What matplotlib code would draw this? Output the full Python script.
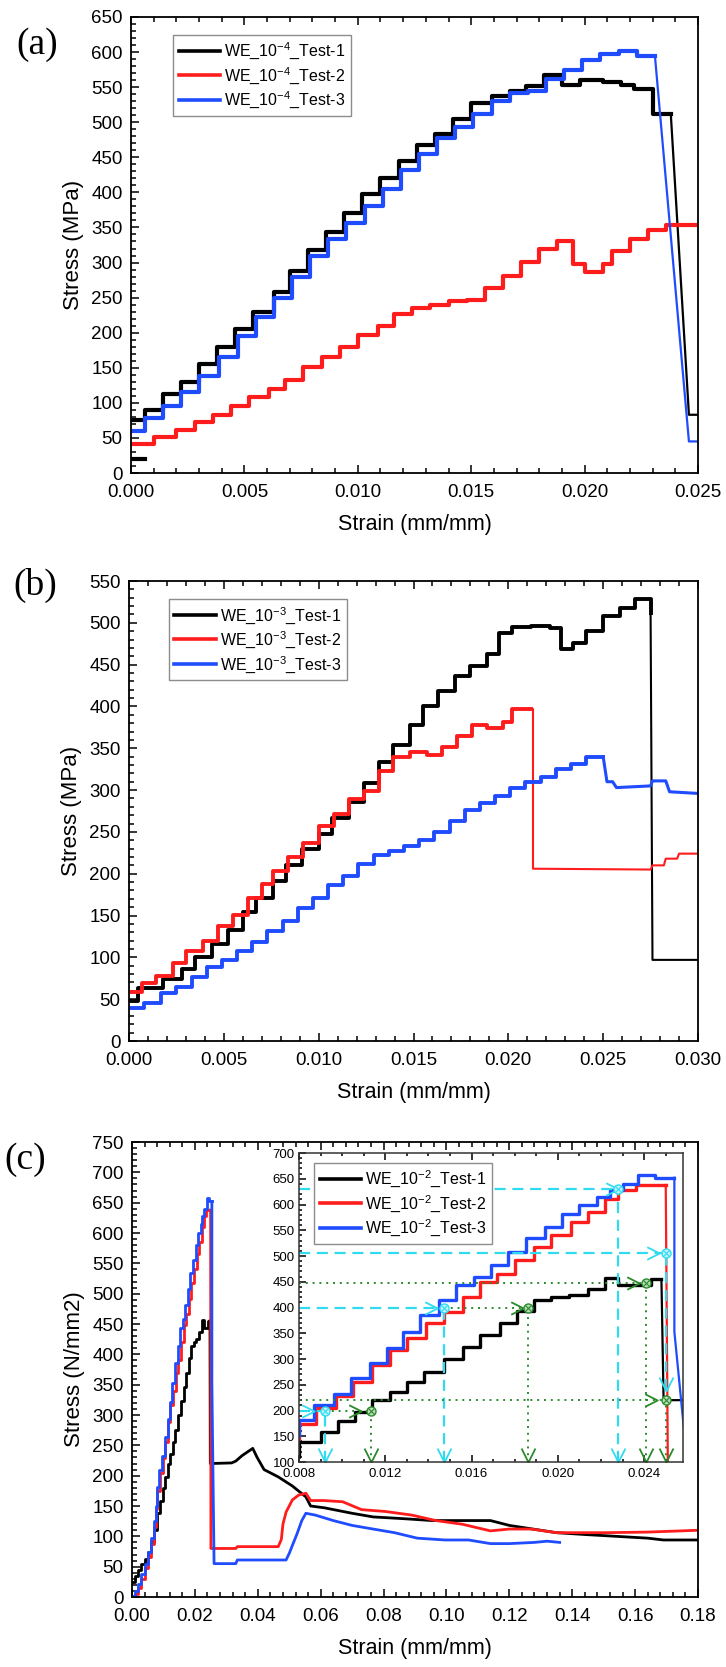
import matplotlib.pyplot as plt
from matplotlib.path import Path
from matplotlib.ticker import MultipleLocator, FormatStrFormatter

plt.rcParams['font.family'] = ['Liberation Sans', 'DejaVu Sans']
plt.rcParams['mathtext.fontset'] = 'custom'
plt.rcParams['mathtext.rm'] = 'Liberation Sans'
plt.rcParams['mathtext.it'] = 'Liberation Sans:italic'
plt.rcParams['mathtext.bf'] = 'Liberation Sans:bold'

# ---------------- (a) strain rate 10^-4 ----------------
a_labels = ['WE_10$^{-4}$_Test-1', 'WE_10$^{-4}$_Test-2', 'WE_10$^{-4}$_Test-3']
a1_x = [0, 0.0006, 0.0014, 0.0022, 0.0030, 0.0038, 0.0046, 0.0054, 0.0063, 0.0070, 0.0078,
        0.0086, 0.0094, 0.0102, 0.0110, 0.0118, 0.0126, 0.0134, 0.0142, 0.0150, 0.0159,
        0.0167, 0.0174, 0.0182, 0.0190, 0.0198, 0.0208, 0.0216, 0.0222, 0.0230, 0.0238]
a1_y = [75, 90, 112, 130, 155, 180, 205, 230, 258, 288, 318, 343, 370, 398, 420, 445, 468,
        483, 505, 527, 537, 545, 552, 567, 553, 560, 558, 553, 548, 512, 512]
a1_tx = [0.0238, 0.0246, 0.0250]
a1_ty = [512, 83, 83]
a1_sx = [0, 0.0006]   # short low segment at the start
a1_sy = [20, 20]

a2_x = [0, 0.0010, 0.0020, 0.0028, 0.0036, 0.0044, 0.0052, 0.0061, 0.0068, 0.0076, 0.0084,
        0.0092, 0.0100, 0.0109, 0.0116, 0.0124, 0.0132, 0.0140, 0.0148, 0.0156, 0.0164,
        0.0172, 0.0180, 0.0188, 0.0195, 0.0200, 0.0208, 0.0212, 0.0220, 0.0228, 0.0236, 0.0250]
a2_y = [42, 52, 62, 72, 83, 95, 108, 120, 133, 151, 165, 179, 197, 210, 227, 235, 240, 245,
        246, 263, 281, 301, 319, 331, 298, 286, 298, 317, 334, 347, 353, 353]

a3_x = [0, 0.0006, 0.0014, 0.0022, 0.0030, 0.0039, 0.0047, 0.0055, 0.0063, 0.0071, 0.0079,
        0.0087, 0.0095, 0.0103, 0.0111, 0.0119, 0.0127, 0.0135, 0.0143, 0.0151, 0.0159,
        0.0167, 0.0175, 0.0183, 0.0191, 0.0199, 0.0207, 0.0215, 0.0223, 0.0231]
a3_y = [60, 78, 95, 115, 138, 165, 195, 222, 250, 280, 310, 333, 357, 380, 405, 432, 455,
        478, 493, 512, 530, 542, 545, 562, 575, 588, 597, 602, 595, 595]
a3_tx = [0.0231, 0.0246, 0.0250]
a3_ty = [595, 45, 45]

# ---------------- (b) strain rate 10^-3 ----------------
b_labels = ['WE_10$^{-3}$_Test-1', 'WE_10$^{-3}$_Test-2', 'WE_10$^{-3}$_Test-3']
b1_x = [0, 0.0005, 0.0018, 0.0028, 0.0035, 0.0044, 0.0052, 0.0060, 0.0067, 0.0076, 0.0083,
        0.0091, 0.0100, 0.0107, 0.0116, 0.0124, 0.0132, 0.0139, 0.0148, 0.0155, 0.0163,
        0.0172, 0.0180, 0.0189, 0.0195, 0.0202, 0.0212, 0.0222, 0.0228, 0.0234, 0.0241,
        0.0250, 0.0259, 0.0267, 0.0275]
b1_y = [48, 63, 74, 86, 101, 116, 133, 154, 171, 191, 210, 229, 248, 267, 286, 308, 333, 354,
        378, 401, 418, 437, 448, 463, 488, 495, 496, 494, 469, 476, 490, 508, 518, 529, 512]
b1_tx = [0.0275, 0.0276, 0.0300]
b1_ty = [512, 97, 97]

b2_x = [0, 0.0007, 0.0014, 0.0023, 0.0030, 0.0039, 0.0047, 0.0055, 0.0063, 0.0070, 0.0076,
        0.0084, 0.0092, 0.0100, 0.0108, 0.0116, 0.0124, 0.0132, 0.0139, 0.0148, 0.0157,
        0.0165, 0.0173, 0.0181, 0.0189, 0.0197, 0.0202, 0.0212]
b2_y = [59, 69, 78, 93, 108, 120, 137, 151, 171, 188, 203, 220, 237, 257, 271, 289, 299, 323,
        340, 346, 342, 351, 365, 378, 374, 381, 397, 397]
b2_tx = [0.0212, 0.0213, 0.0213, 0.0275, 0.0276, 0.0282, 0.0283, 0.0289, 0.0290, 0.0300]
b2_ty = [397, 397, 206, 205, 210, 210, 218, 218, 224, 224]

b3_x = [0, 0.0008, 0.0017, 0.0025, 0.0033, 0.0041, 0.0049, 0.0057, 0.0065, 0.0073, 0.0081,
        0.0089, 0.0097, 0.0105, 0.0113, 0.0121, 0.0129, 0.0137, 0.0145, 0.0153, 0.0161,
        0.0169, 0.0177, 0.0185, 0.0193, 0.0201, 0.0209, 0.0217, 0.0225, 0.0233, 0.0241, 0.0250]
b3_y = [40, 46, 57, 65, 76, 88, 97, 108, 118, 131, 144, 159, 171, 186, 197, 212, 222, 227,
        233, 240, 250, 263, 276, 284, 293, 303, 310, 316, 325, 331, 340, 340]
b3_tx = [0.0250, 0.0252, 0.0255, 0.0257, 0.0275, 0.0276, 0.0283, 0.0285, 0.0300]
b3_ty = [340, 310, 310, 303, 305, 311, 311, 298, 296]

# ---------------- (c) strain rate 10^-2 ----------------
c_labels = ['WE_10$^{-2}$_Test-1', 'WE_10$^{-2}$_Test-2', 'WE_10$^{-2}$_Test-3']
c1_x = [0, 0.0010, 0.0020, 0.0030, 0.0040, 0.0050, 0.0060, 0.0070, 0.0080, 0.0090, 0.0098,
        0.0106, 0.0114, 0.0122, 0.0130, 0.0138, 0.0147, 0.0156, 0.0164, 0.0173, 0.0181,
        0.0189, 0.0197, 0.0205, 0.0214, 0.0222, 0.0228, 0.0243, 0.0248]
c1_y = [25, 35, 45, 55, 63, 75, 90, 110, 139, 158, 179, 197, 220, 236, 255, 275, 300, 323,
        346, 370, 394, 414, 420, 425, 436, 457, 443, 455, 455]
c1_tx = [0.0248, 0.0249, 0.0317, 0.033, 0.035, 0.0384, 0.0398, 0.042, 0.0465, 0.051, 0.0553,
         0.0568, 0.0612, 0.070, 0.0767, 0.0867, 0.0955, 0.114, 0.120, 0.1275, 0.135, 0.144,
         0.154, 0.164, 0.169, 0.180]
c1_ty = [455, 220, 221, 224, 233, 245, 230, 210, 198, 183, 165, 150, 147, 138, 132, 129, 126,
         126, 118, 112, 106, 103, 100, 97, 94, 94]

c2_x = [0, 0.0010, 0.0020, 0.0030, 0.0040, 0.0050, 0.0060, 0.0070, 0.0076, 0.0080, 0.0088,
        0.0097, 0.0105, 0.0114, 0.0122, 0.0130, 0.0139, 0.0147, 0.0156, 0.0164, 0.0172,
        0.0180, 0.0189, 0.0197, 0.0206, 0.0214, 0.0222, 0.0228, 0.0236, 0.0250]
c2_y = [0, 5, 15, 30, 47, 66, 88, 115, 145, 174, 204, 229, 255, 288, 317, 340, 369, 391, 420,
        449, 466, 492, 517, 540, 566, 585, 610, 628, 638, 638]
c2_tx = [0.0250, 0.0251, 0.033, 0.0335, 0.0465, 0.0475, 0.048, 0.049, 0.050, 0.051, 0.053,
         0.0553, 0.0568, 0.061, 0.067, 0.073, 0.0805, 0.089, 0.0966, 0.105, 0.114, 0.120,
         0.127, 0.135, 0.150, 0.164, 0.180]
c2_ty = [638, 80, 80, 83, 83, 95, 120, 140, 150, 160, 168, 171, 159, 159, 157, 144, 141, 135,
         126, 120, 109, 112, 112, 106, 106, 107, 110]

c3_x = [0, 0.0010, 0.0020, 0.0030, 0.0040, 0.0050, 0.0060, 0.0070, 0.0075, 0.0080, 0.0087,
        0.0096, 0.0104, 0.0113, 0.0121, 0.0128, 0.0136, 0.0145, 0.0153, 0.0161, 0.0169,
        0.0177, 0.0185, 0.0194, 0.0202, 0.0210, 0.0218, 0.0224, 0.0230, 0.0237, 0.0245, 0.0254]
c3_y = [2, 10, 22, 38, 55, 75, 98, 125, 150, 181, 210, 233, 264, 293, 322, 352, 385, 414, 443,
        459, 482, 508, 534, 556, 581, 600, 615, 628, 640, 658, 652, 652]
c3_tx = [0.0254, 0.0254, 0.0261, 0.033, 0.0335, 0.049, 0.0501, 0.051, 0.0524, 0.054, 0.0553,
         0.0583, 0.064, 0.070, 0.0767, 0.0835, 0.0907, 0.0995, 0.107, 0.114, 0.120, 0.128,
         0.132, 0.136]
c3_ty = [652, 353, 55, 55, 61, 61, 73, 85, 103, 126, 138, 135, 126, 118, 112, 106, 97, 94, 94,
         88, 88, 90, 92, 90]

# guide lines in the inset: (level, x start, x end)
cyan_h = [(630, 0.008, 0.0228), (505, 0.008, 0.0250), (400, 0.008, 0.0147), (200, 0.008, 0.0092)]
cyan_v = [(0.0228, 100, 630), (0.0147, 100, 400), (0.0092, 100, 200), (0.0250, 240, 505)]
cyan_pts_x = [0.0228, 0.0250, 0.0147, 0.0092]
cyan_pts_y = [630, 505, 400, 200]
cyan_arr_x = [0.0225, 0.0244, 0.0141, 0.0084]
cyan_down_x = [0.0092, 0.0147, 0.0228, 0.0250]
cyan_down_y = [113, 113, 113, 252]
green_h = [(447, 0.008, 0.0241), (400, 0.0147, 0.0186), (200, 0.0092, 0.01135), (220, 0.008, 0.0250)]
green_v = [(0.01135, 100, 200), (0.0186, 100, 400), (0.0241, 100, 447), (0.0250, 100, 220)]
green_pts_x = [0.0241, 0.0186, 0.01135, 0.0250]
green_pts_y = [447, 400, 200, 220]
green_arr_x = [0.0235, 0.0181, 0.0106, 0.0243]
green_down_x = [0.01135, 0.0186, 0.0241, 0.0250]

colors = ['#000000', '#ff1c1c', '#1f4cff']
CYAN = '#2fdcef'
GREEN = '#2b8a2b'

V_DOWN = Path([(-1, 1), (0, -1), (1, 1)], [Path.MOVETO, Path.LINETO, Path.LINETO])
V_RIGHT = Path([(-1, 1), (1, 0), (-1, -1)], [Path.MOVETO, Path.LINETO, Path.LINETO])

W, H = 726, 1667
fig = plt.figure(figsize=(W / 100, H / 100), dpi=100)


def box(l, t, r, b):
    return [l / W, 1 - b / H, (r - l) / W, (b - t) / H]


def style(ax, xmaj, xmin, ymaj, ymin, fmt, size=13.5, pad=8):
    ax.xaxis.set_major_locator(MultipleLocator(xmaj))
    ax.xaxis.set_minor_locator(MultipleLocator(xmin))
    ax.yaxis.set_major_locator(MultipleLocator(ymaj))
    ax.yaxis.set_minor_locator(MultipleLocator(ymin))
    ax.xaxis.set_major_formatter(FormatStrFormatter(fmt))
    ax.tick_params(which='both', direction='in', top=True, right=False, labelsize=size,
                   width=1.1)
    ax.tick_params(axis='x', which='major', pad=pad)
    ax.tick_params(axis='y', which='major', pad=6)
    ax.tick_params(which='major', length=6)
    ax.tick_params(which='minor', length=3.5)
    for s in ax.spines.values():
        s.set_linewidth(1.3)


def legend(ax, labels, anchor):
    handles = [plt.Line2D([], [], color=c, lw=2.6) for c in colors]
    ax.legend(handles, labels, loc='upper left', bbox_to_anchor=anchor, borderaxespad=0,
              fontsize=11.5, handlelength=2.6, handletextpad=0.25, labelspacing=0.22,
              borderpad=0.35, fancybox=False, framealpha=1, edgecolor='#8c8c8c')


# panel (a)
ax = fig.add_axes(box(131, 17, 698, 473))
ax.plot(a1_sx, a1_sy, color=colors[0], lw=3)
ax.plot(a1_x, a1_y, drawstyle='steps-post', color=colors[0], lw=3)
ax.plot(a1_tx, a1_ty, color=colors[0], lw=1.6)
ax.plot(a2_x, a2_y, drawstyle='steps-post', color=colors[1], lw=3)
ax.plot(a3_x, a3_y, drawstyle='steps-post', color=colors[2], lw=3)
ax.plot(a3_tx, a3_ty, color=colors[2], lw=1.6)
ax.set_xlim(0, 0.025)
ax.set_ylim(0, 650)
style(ax, 0.005, 0.001, 50, 10, '%.3f')
ax.set_xlabel('Strain (mm/mm)', fontsize=15.5, labelpad=9)
ax.set_ylabel('Stress (MPa)', fontsize=16, labelpad=5)
legend(ax, a_labels, (0.074, 0.961))
fig.text(37 / W, 1 - 45 / H, '(a)', family='Liberation Serif', fontsize=27, ha='center', va='center')

# panel (b)
ax = fig.add_axes(box(129, 581, 698, 1041))
ax.plot(b1_x, b1_y, drawstyle='steps-post', color=colors[0], lw=2.8)
ax.plot(b1_tx, b1_ty, color=colors[0], lw=1.5)
ax.plot(b2_x, b2_y, drawstyle='steps-post', color=colors[1], lw=2.8)
ax.plot(b2_tx, b2_ty, color=colors[1], lw=1.5)
ax.plot(b3_x, b3_y, drawstyle='steps-post', color=colors[2], lw=2.8)
ax.plot(b3_tx, b3_ty, color=colors[2], lw=2.2)
ax.set_xlim(0, 0.030)
ax.set_ylim(0, 550)
style(ax, 0.005, 0.001, 50, 10, '%.3f')
ax.set_xlabel('Strain (mm/mm)', fontsize=15.5, labelpad=9)
ax.set_ylabel('Stress (MPa)', fontsize=16, labelpad=5)
legend(ax, b_labels, (0.070, 0.961))
fig.text(35 / W, 1 - 585 / H, '(b)', family='Liberation Serif', fontsize=27, ha='center', va='center')

# panel (c)
ax = fig.add_axes(box(132, 1142, 698, 1597))
for (sx, sy, tx, ty), c in zip([(c1_x, c1_y, c1_tx, c1_ty), (c2_x, c2_y, c2_tx, c2_ty),
                                (c3_x, c3_y, c3_tx, c3_ty)], colors):
    ax.plot(sx, sy, drawstyle='steps-post', color=c, lw=2)
    ax.plot(tx, ty, color=c, lw=2)
ax.set_xlim(0, 0.18)
ax.set_ylim(0, 750)
style(ax, 0.02, 0.004, 50, 10, '%.2f')
ax.set_xlabel('Strain (mm/mm)', fontsize=15.5, labelpad=9)
ax.set_ylabel('Stress (N/mm2)', fontsize=16, labelpad=5)
fig.text(25 / W, 1 - 1160 / H, '(c)', family='Liberation Serif', fontsize=27, ha='center', va='center')

# inset of (c)
ins = fig.add_axes(box(299, 1153, 683, 1462))
for (sx, sy, tx, ty), c in zip([(c1_x, c1_y, c1_tx, c1_ty), (c2_x, c2_y, c2_tx, c2_ty),
                                (c3_x, c3_y, c3_tx, c3_ty)], colors):
    ins.plot(sx, sy, drawstyle='steps-post', color=c, lw=2.4)
    ins.plot(tx, ty, color=c, lw=1.6)
for y, x0, x1 in cyan_h:
    ins.plot([x0, x1], [y, y], color=CYAN, lw=1.6, ls=(0, (5, 3)))
for x, y0, y1 in cyan_v:
    ins.plot([x, x], [y0, y1], color=CYAN, lw=1.6, ls=(0, (5, 3)))
for y, x0, x1 in green_h:
    ins.plot([x0, x1], [y, y], color=GREEN, lw=1.4, ls=(0, (1, 2.5)))
for x, y0, y1 in green_v:
    ins.plot([x, x], [y0, y1], color=GREEN, lw=1.4, ls=(0, (1, 2.5)))
ins.plot(cyan_arr_x, cyan_pts_y, ls='none', marker=V_RIGHT, ms=9, mfc='none', mec=CYAN, mew=1.3)
ins.plot(green_arr_x, green_pts_y, ls='none', marker=V_RIGHT, ms=9, mfc='none', mec=GREEN, mew=1.3)
ins.plot(cyan_down_x, cyan_down_y, ls='none', marker=V_DOWN, ms=10, mfc='none', mec=CYAN, mew=1.3)
ins.plot(green_down_x, [113] * len(green_down_x), ls='none', marker=V_DOWN, ms=10, mfc='none',
         mec=GREEN, mew=1.3)
ins.plot(cyan_pts_x, cyan_pts_y, ls='none', marker='o', ms=6.5, mfc='#bff4fa', mec=CYAN, mew=1)
ins.plot(cyan_pts_x, cyan_pts_y, ls='none', marker='x', ms=4, mec=CYAN, mew=0.8)
ins.plot(green_pts_x, green_pts_y, ls='none', marker='o', ms=6.5, mfc='#b8dcb8', mec=GREEN, mew=1)
ins.plot(green_pts_x, green_pts_y, ls='none', marker='x', ms=4, mec=GREEN, mew=0.8)
ins.set_xlim(0.008, 0.0258)
ins.set_ylim(100, 700)
style(ins, 0.004, 0.001, 50, 10, '%.3f', size=9.5, pad=4)
ins.tick_params(axis='y', which='major', pad=3)
ins.tick_params(which='major', length=5)
ins.tick_params(which='minor', length=2.5)
for s in ins.spines.values():
    s.set_linewidth(1.1)
    s.set_color('#333333')
legend(ins, c_labels, (0.039, 0.968))

fig.savefig('out.png', dpi=100)
